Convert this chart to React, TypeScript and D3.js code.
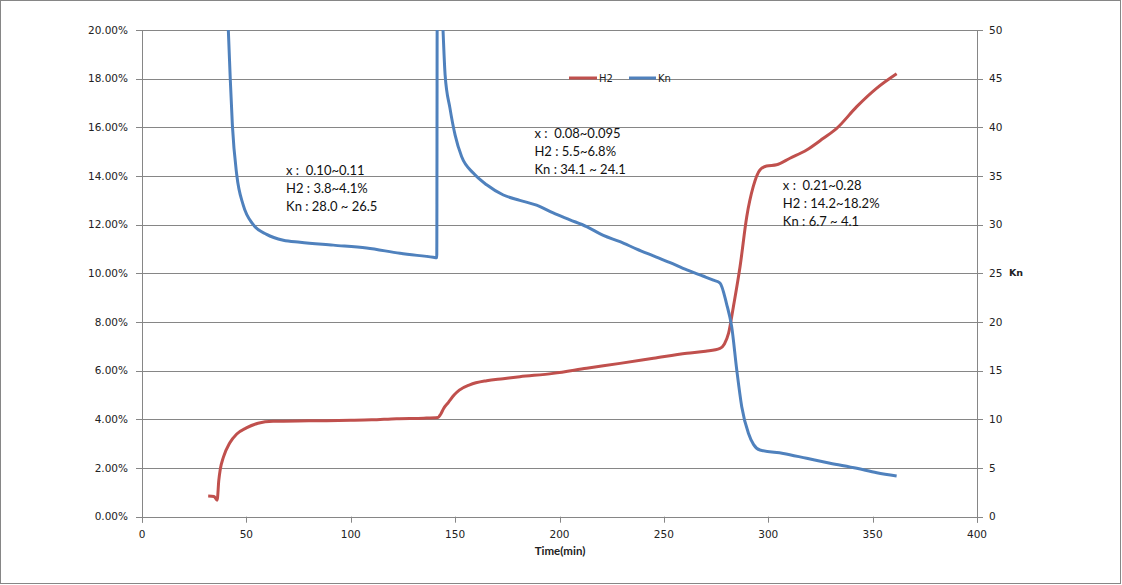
import React from "react";
import * as d3 from "d3";

// ---- Data ----
const h2Time = [31.7, 34.5, 36.0, 36.8, 37.5, 39.0, 42.0, 45.4, 50.0, 55.6, 62.8, 80, 100, 110, 122, 135, 141.8, 143.0, 144.5, 146.8, 149.5, 152.0, 157.0, 165.1, 173.0, 181.0, 197.0, 213.0, 229.0, 245.0, 261.0, 270.0, 276.9, 279.0, 281.0, 283.3, 286.5, 289.7, 292.8, 296.0, 299.2, 304.0, 310.4, 318.4, 326.4, 332.8, 342.4, 352.0, 361.5];
const h2Value = [0.85, 0.83, 0.68, 1.5, 1.95, 2.45, 3.03, 3.4, 3.65, 3.84, 3.92, 3.94, 3.96, 3.98, 4.03, 4.05, 4.08, 4.2, 4.45, 4.7, 5.0, 5.2, 5.42, 5.59, 5.67, 5.75, 5.89, 6.1, 6.3, 6.51, 6.72, 6.8, 6.92, 7.1, 7.54, 8.63, 10.28, 12.33, 13.56, 14.25, 14.41, 14.46, 14.73, 15.07, 15.55, 15.96, 16.85, 17.61, 18.2];

const knTime = [40.8, 42.2, 43.3, 45.4, 48.5, 53.3, 59.7, 67.7, 75.7, 91.6, 107.6, 123.6, 139.5, 141.2, 141.5, 142.4, 144.2, 145.2, 147.5, 150.0, 153.1, 158.7, 165.1, 173.1, 181.0, 189.0, 197.0, 205.0, 213.0, 221.0, 229.0, 237.0, 245.0, 253.0, 261.0, 269.0, 273.7, 276.9, 280.0, 282.5, 284.9, 287.3, 290.5, 293.0, 296.0, 307.2, 318.4, 329.6, 342.4, 352.0, 361.5];
const knValue = [53, 45.4, 40.2, 35.1, 32.0, 30.0, 29.0, 28.4, 28.2, 27.9, 27.6, 27.06, 26.65, 26.6, 62, 60, 50, 45.4, 42.0, 39.2, 37.0, 35.3, 34.1, 33.05, 32.5, 32.0, 31.2, 30.5, 29.8, 28.9, 28.25, 27.5, 26.8, 26.1, 25.35, 24.7, 24.3, 24.0, 21.9, 19.5, 15.1, 11.3, 8.57, 7.4, 6.85, 6.5, 6.0, 5.5, 4.97, 4.52, 4.18];

const xTicks = [0, 50, 100, 150, 200, 250, 300, 350, 400];
const leftTicks = [0, 2, 4, 6, 8, 10, 12, 14, 16, 18, 20];
const rightTicks = [0, 5, 10, 15, 20, 25, 30, 35, 40, 45, 50];

const seriesNames = ["H2", "Kn"];
const annotations = [
  { t: 69, v: 14.22, lines: ["x :  0.10~0.11", "H2 : 3.8~4.1%", "Kn : 28.0 ~ 26.5"] },
  { t: 188, v: 15.76, lines: ["x :  0.08~0.095", "H2 : 5.5~6.8%", "Kn : 34.1 ~ 24.1"] },
  { t: 307, v: 13.63, lines: ["x :  0.21~0.28", "H2 : 14.2~18.2%", "Kn : 6.7 ~ 4.1"] },
];

const W = 1122;
const H = 585;
const M = { left: 142, right: 977, top: 30, bottom: 516.7 };
const RED = "#C0504D";
const BLUE = "#4F81BD";
const GRID = "#868686";
const tickFont = "'DejaVu Sans', Verdana, sans-serif";
const textFont = "Lato, 'Open Sans', sans-serif";

export default function App() {
  const x = d3.scaleLinear().domain([0, 400]).range([M.left, M.right]);
  const yL = d3.scaleLinear().domain([0, 20]).range([M.bottom, M.top]);
  const yR = d3.scaleLinear().domain([0, 50]).range([M.bottom, M.top]);

  const h2Data = h2Time.map((t, i) => [t, h2Value[i]] as [number, number]);
  const knData = knTime.map((t, i) => [t, knValue[i]] as [number, number]);

  const h2Line = d3
    .line<[number, number]>()
    .x((d) => x(d[0]))
    .y((d) => yL(d[1]))
    .curve(d3.curveMonotoneX)(h2Data) as string;
  const knLine = d3
    .line<[number, number]>()
    .x((d) => x(d[0]))
    .y((d) => yR(d[1]))
    .curve(d3.curveMonotoneX)(knData) as string;

  return (
    <svg
      width={W}
      height={H}
      style={{ position: "absolute", left: 0, top: 0, background: "#fff" }}
    >
      <rect x={0.5} y={0.5} width={W - 2} height={H - 2} fill="#fff" stroke={GRID} strokeWidth={1} />
      <defs>
        <clipPath id="plotClip">
          <rect x={M.left} y={M.top} width={M.right - M.left} height={M.bottom - M.top} />
        </clipPath>
      </defs>

      {/* gridlines */}
      {leftTicks.map((v) => (
        <line
          key={"g" + v}
          x1={M.left}
          x2={M.right}
          y1={Math.round(yL(v)) + 0.5}
          y2={Math.round(yL(v)) + 0.5}
          stroke={GRID}
          strokeWidth={1}
        />
      ))}

      {/* left axis */}
      <line x1={M.left + 0.5} x2={M.left + 0.5} y1={M.top} y2={M.bottom + 6} stroke={GRID} />
      {leftTicks.map((v) => (
        <g key={"l" + v}>
          <line x1={M.left - 6} x2={M.left} y1={Math.round(yL(v)) + 0.5} y2={Math.round(yL(v)) + 0.5} stroke={GRID} />
          <text
            x={128}
            y={yL(v)}
            dy="0.35em"
            textAnchor="end"
            fontFamily={tickFont}
            fontSize={10.5}
            fill="#222"
          >
            {v.toFixed(2) + "%"}
          </text>
        </g>
      ))}

      {/* right axis */}
      <line x1={M.right + 0.5} x2={M.right + 0.5} y1={M.top} y2={M.bottom + 6} stroke={GRID} />
      {rightTicks.map((v) => (
        <g key={"r" + v}>
          <line x1={M.right} x2={M.right + 6} y1={Math.round(yR(v)) + 0.5} y2={Math.round(yR(v)) + 0.5} stroke={GRID} />
          <text x={989} y={yR(v)} dy="0.35em" fontFamily={tickFont} fontSize={10.5} fill="#222">
            {v}
          </text>
        </g>
      ))}
      <text x={1009} y={273} dy="0.35em" fontFamily={tickFont} fontSize={9.5} fontWeight="bold" fill="#222">
        Kn
      </text>

      {/* bottom axis */}
      <line x1={M.left} x2={M.right} y1={Math.round(M.bottom) + 0.5} y2={Math.round(M.bottom) + 0.5} stroke={GRID} />
      {xTicks.map((v) => (
        <g key={"x" + v}>
          <line x1={Math.round(x(v)) + 0.5} x2={Math.round(x(v)) + 0.5} y1={M.bottom} y2={M.bottom + 6} stroke={GRID} />
          <text x={x(v)} y={534} dy="0.35em" textAnchor="middle" fontFamily={tickFont} fontSize={10.5} fill="#222">
            {v}
          </text>
        </g>
      ))}
      <text x={560} y={551} dy="0.35em" textAnchor="middle" fontFamily={textFont} fontSize={11.5} fontWeight="bold" fill="#222">
        Time(min)
      </text>

      {/* series */}
      <g clipPath="url(#plotClip)">
        <path d={h2Line} fill="none" stroke={RED} strokeWidth={3} strokeLinejoin="round" />
        <path d={knLine} fill="none" stroke={BLUE} strokeWidth={3} strokeLinejoin="round" />
      </g>

      {/* legend */}
      <g>
        <line x1={569} x2={597} y1={78} y2={78} stroke={RED} strokeWidth={3} />
        <text x={599} y={78} dy="0.35em" fontFamily={tickFont} fontSize={10} fill="#222">
          {seriesNames[0]}
        </text>
        <line x1={629} x2={656} y1={78} y2={78} stroke={BLUE} strokeWidth={3} />
        <text x={658} y={78} dy="0.35em" fontFamily={tickFont} fontSize={10} fill="#222">
          {seriesNames[1]}
        </text>
      </g>

      {/* annotations */}
      {annotations.map((a, i) => (
        <g key={"a" + i}>
          {a.lines.map((ln, j) => (
            <text
              key={j}
              x={x(a.t)}
              y={yL(a.v) + j * 18}
              dy="0.35em"
              fontFamily={textFont}
              fontSize={13}
              fill="#111"
              style={{ whiteSpace: "pre" }}
            >
              {ln}
            </text>
          ))}
        </g>
      ))}
    </svg>
  );
}
